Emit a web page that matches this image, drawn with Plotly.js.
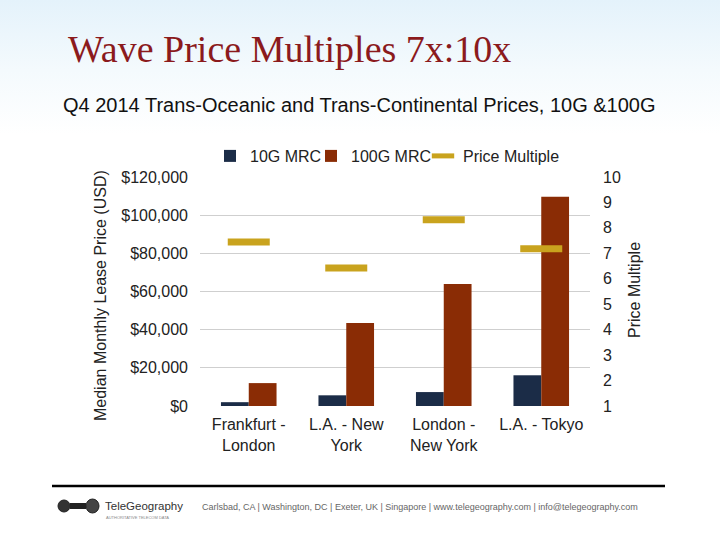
<!DOCTYPE html>
<html>
<head>
<meta charset="utf-8">
<script src="https://cdn.plot.ly/plotly-3.0.1.min.js"></script>
<style>
html,body{margin:0;padding:0;}
body{width:720px;height:540px;background:linear-gradient(to bottom,#e4f2fb 0px,#f4fafd 70px,#ffffff 135px,#ffffff 540px);}
#chart{width:720px;height:540px;}
</style>
</head>
<body>
<div id="chart"></div>
<script>
// ---- data ----
const categories = ["Frankfurt -<br>London", "L.A. - New<br>York", "London -<br>New York", "L.A. - Tokyo"];
const mrc10G = [2000, 5600, 7300, 16100];
const mrc100G = [12000, 43500, 63900, 109600];
const priceMultiple = [7.45, 6.42, 8.32, 7.18];
const usdTicks = [0, 20000, 40000, 60000, 80000, 100000, 120000];
const usdTickLabels = ["$0", "$20,000", "$40,000", "$60,000", "$80,000", "$100,000", "$120,000"];
const multipleTicks = [1, 2, 3, 4, 5, 6, 7, 8, 9, 10];

const W = 720, H = 540;
const px = x => x / W;
const py = y => 1 - y / H;

const font = "Arial, 'Liberation Sans', Helvetica, sans-serif";

const traces = [
  {type: "bar", name: "10G MRC", x: categories, y: mrc10G, marker: {color: "#1b2c47"}, hoverinfo: "y", legend: "legend"},
  {type: "bar", name: "100G MRC", x: categories, y: mrc100G, marker: {color: "#8a2c05"}, hoverinfo: "y", legend: "legend2"},
  {type: "scatter", mode: "markers", name: "Price Multiple", x: categories, y: priceMultiple, yaxis: "y2", legend: "legend3",
   marker: {symbol: "line-ew-open", size: 30, color: "#c9a31e", line: {width: 7, color: "#c9a31e"}}}
];

function legendAt(x) {
  return {orientation: "h", x: px(x), xanchor: "left", y: py(156), yanchor: "middle",
          font: {size: 16, color: "#222"}, itemwidth: 30, bgcolor: "rgba(0,0,0,0)"};
}

const layout = {
  width: W, height: H, autosize: false,
  margin: {l: 0, r: 0, t: 0, b: 0},
  paper_bgcolor: "rgba(0,0,0,0)",
  plot_bgcolor: "rgba(0,0,0,0)",
  font: {family: font, color: "#222", size: 16},
  barmode: "group",
  bargap: 0.43,
  bargroupgap: 0,
  showlegend: true,
  legend: legendAt(210),
  legend2: legendAt(311),
  legend3: legendAt(423),
  xaxis: {domain: [px(200), px(590)], showline: false, ticks: "", automargin: false,
          ticklabelstandoff: 7, tickfont: {size: 16, color: "#222"}},
  yaxis: {domain: [py(406), py(177)], range: [0, 120000], tickvals: usdTicks, ticktext: usdTickLabels,
          showgrid: true, gridcolor: "#cfcfcf", gridwidth: 1, zeroline: false, showline: false,
          ticks: "", ticklabelstandoff: 11, automargin: false, tickfont: {size: 16, color: "#222"}},
  yaxis2: {overlaying: "y", side: "right", range: [1, 10], tickvals: multipleTicks, showgrid: false,
           zeroline: false, showline: false, ticks: "", ticklabelstandoff: 12, automargin: false,
           tickfont: {size: 16, color: "#222"}},
  shapes: [
    {type: "line", xref: "paper", yref: "paper", x0: px(52), x1: px(665), y0: py(486), y1: py(486),
     line: {color: "#000", width: 2.5}},
    {type: "circle", xref: "paper", yref: "paper", x0: px(58), x1: px(70), y0: py(512), y1: py(500),
     fillcolor: "#333", line: {color: "#222", width: 1}},
    {type: "rect", xref: "paper", yref: "paper", x0: px(70), x1: px(86), y0: py(509), y1: py(503),
     fillcolor: "#222", line: {width: 0}},
    {type: "circle", xref: "paper", yref: "paper", x0: px(86), x1: px(99), y0: py(513), y1: py(499),
     fillcolor: "#444", line: {color: "#222", width: 1}}
  ],
  annotations: [
    {text: "Wave Price Multiples 7x:10x", xref: "paper", yref: "paper", x: px(66), y: py(49),
     xanchor: "left", yanchor: "middle", showarrow: false,
     font: {family: "'Liberation Serif', 'Times New Roman', serif", size: 38, color: "#8b1a1c"}},
    {text: "Q4 2014 Trans-Oceanic and Trans-Continental Prices, 10G &100G", xref: "paper", yref: "paper",
     x: px(61), y: py(105), xanchor: "left", yanchor: "middle", showarrow: false,
     font: {size: 20, color: "#111"}},
    {text: "Median Monthly Lease Price (USD)", xref: "paper", yref: "paper", x: px(100), y: py(296),
     xanchor: "center", yanchor: "middle", textangle: -90, showarrow: false,
     font: {size: 16, color: "#222"}},
    {text: "Price Multiple", xref: "paper", yref: "paper", x: px(634), y: py(290),
     xanchor: "center", yanchor: "middle", textangle: -90, showarrow: false,
     font: {size: 16, color: "#222"}},
    {text: "TeleGeography", xref: "paper", yref: "paper", x: px(103), y: py(506),
     xanchor: "left", yanchor: "middle", showarrow: false, font: {size: 11.5, color: "#333"}},
    {text: "AUTHORITATIVE TELECOM DATA", xref: "paper", yref: "paper", x: px(104), y: py(517),
     xanchor: "left", yanchor: "middle", showarrow: false, font: {size: 4, color: "#888"}},
    {text: "Carlsbad, CA | Washington, DC | Exeter, UK | Singapore | www.telegeography.com | info@telegeography.com",
     xref: "paper", yref: "paper", x: px(200), y: py(507), xanchor: "left", yanchor: "middle", showarrow: false,
     font: {size: 9, color: "#666"}}
  ]
};

Plotly.newPlot("chart", traces, layout, {displayModeBar: false, staticPlot: true});
</script>
</body>
</html>
